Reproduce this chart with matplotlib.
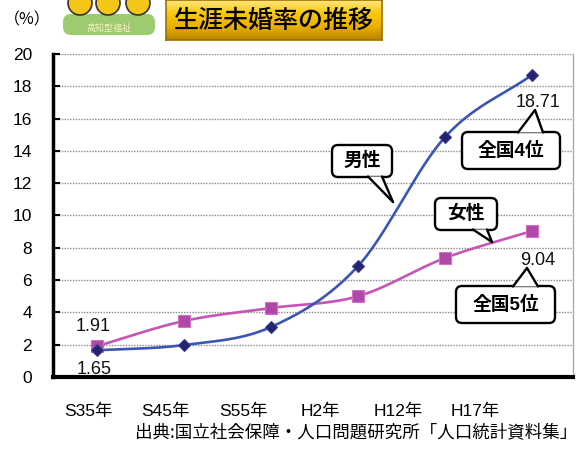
import numpy as np
import matplotlib
matplotlib.use("Agg")
import matplotlib.pyplot as plt
from matplotlib.patches import FancyBboxPatch, Polygon, Circle, Rectangle
from matplotlib.lines import Line2D
from matplotlib.colors import LinearSegmentedColormap
import matplotlib.transforms as mtransforms

plt.rcParams['font.family'] = ['Liberation Sans', 'Noto Sans CJK JP', 'DejaVu Sans']

# ---- data ----
categories = ["S35年", "S45年", "S55年", "H2年", "H12年", "H17年"]
male = [1.65, 1.98, 3.10, 6.87, 14.86, 18.71]
female = [1.91, 3.47, 4.27, 5.00, 7.37, 9.04]
yticks = [0, 2, 4, 6, 8, 10, 12, 14, 16, 18, 20]
title = "生涯未婚率の推移"
source = "出典:国立社会保障・人口問題研究所「人口統計資料集」"

W, H = 578, 451
fig = plt.figure(figsize=(W / 100, H / 100), dpi=100)
fig.patch.set_facecolor("white")
ax = fig.add_axes([53 / W, 74 / H, 520 / W, 323 / H])

PX = mtransforms.Affine2D().scale(1, -1).translate(0, H)  # pixel coords from top-left


def catmull(xs, ys, n=30):
    xs = np.asarray(xs, float); ys = np.asarray(ys, float)
    P = np.column_stack([xs, ys])
    P = np.vstack([2 * P[0] - P[1], P, 2 * P[-1] - P[-2]])
    out = []
    for i in range(1, len(P) - 2):
        p0, p1, p2, p3 = P[i - 1], P[i], P[i + 1], P[i + 2]
        t = np.linspace(0, 1, n)[:, None]
        seg = 0.5 * ((2 * p1) + (-p0 + p2) * t + (2 * p0 - 5 * p1 + 4 * p2 - p3) * t ** 2
                     + (-p0 + 3 * p1 - 3 * p2 + p3) * t ** 3)
        out.append(seg)
    out = np.vstack(out)
    return out[:, 0], out[:, 1]


x = np.arange(len(categories))
mx, my = catmull(x, male)
fx, fy = catmull(x, female)

ax.plot(fx, fy, color="#C455B4", lw=1.9, zorder=3)
ax.plot(mx, my, color="#3A55B5", lw=1.9, zorder=3)
ax.plot(x, female, ls="none", marker="s", ms=8, color="#B048A8", mec="#D070C8", mew=0.8, zorder=4)
ax.plot(x, male, ls="none", marker="D", ms=6.5, color="#23236E", mec="#3A3A90", mew=0.8, zorder=4)

ax.set_xlim(-0.506, 5.47)
ax.set_ylim(0, 20)
ax.set_yticks(yticks)
ax.set_yticklabels([str(v) for v in yticks], fontsize=12.5)
ax.grid(axis="y", color="#888888", ls=(0, (1, 1)), lw=1.0)
ax.set_axisbelow(True)

ax.set_xticks(np.arange(len(categories)) * 0.89 - 0.1)
ax.set_xticklabels(categories, fontsize=12.5)
ax.tick_params(axis="x", length=0, pad=19)
ax.tick_params(axis="y", direction="in", length=5, width=1.5, pad=15)

ax.spines["left"].set_linewidth(2.5)
ax.spines["bottom"].set_linewidth(3)
ax.spines["top"].set_visible(False)
ax.spines["right"].set_color("#AAAAAA")
ax.spines["right"].set_linewidth(1)

# data labels
lab = dict(fontsize=13, color="#111111", ha="center", va="center", textcoords="offset points")
ax.annotate("1.91", (x[0], female[0]), xytext=(-3, 14), **lab)
ax.annotate("1.65", (x[0], male[0]), xytext=(-2, -14), **lab)
ax.annotate("18.71", (x[-1], male[-1]), xytext=(4, -20), **lab)
ax.annotate("9.04", (x[-1], female[-1]), xytext=(4, -21), **lab)


def callout(box, base1, base2, tip, text):
    x0, y0, x1, y1 = box
    bp = FancyBboxPatch((x0, y0), x1 - x0, y1 - y0, boxstyle="round,pad=0,rounding_size=6",
                        transform=PX, fc="white", ec="black", lw=1.7, zorder=10)
    fig.patches.append(bp)
    tri = Polygon([base1, tip, base2], closed=True, transform=PX, fc="white", ec="none", zorder=11)
    fig.patches.append(tri)
    for b in (base1, base2):
        fig.lines.append(Line2D([b[0], tip[0]], [b[1], tip[1]], transform=PX, color="black",
                                lw=1.7, zorder=12, solid_capstyle="round"))
    fig.text((x0 + x1) / 2, (y0 + y1) / 2, text, transform=PX, ha="center", va="center",
             fontsize=13.5, fontweight="bold", family=['Liberation Sans', 'Noto Sans CJK JP'], zorder=13)


callout((332, 145, 392, 177), (368, 176.5), (382, 176.5), (393, 202), "男性")
callout((462, 132, 560, 169), (518, 132.5), (543, 132.5), (535, 110), "全国4位")
callout((435, 198, 497, 230), (473, 229.5), (487, 229.5), (492, 242), "女性")
callout((456, 286, 555, 323), (513, 286.5), (538, 286.5), (527, 268), "全国5位")

# title box with gold gradient
tax = fig.add_axes([166 / W, (H - 40) / H, 216 / W, 40 / H])
gold = LinearSegmentedColormap.from_list("gold", ["#FFE680", "#F7C80A", "#EBB000", "#B88400"])
grad = np.linspace(0, 1, 64)[:, None]
tax.imshow(grad, aspect="auto", cmap=gold, extent=(0, 1, 0, 1), origin="upper")
tax.set_xticks([]); tax.set_yticks([])
for s in tax.spines.values():
    s.set_color("#A07000"); s.set_linewidth(1.2)
tax.text(0.5, 0.48, title, transform=tax.transAxes, ha="center", va="center", fontsize=18,
         family=['Noto Sans CJK JP'], fontweight="medium", color="black")

# "(%)"
fig.text(27, 20, "（%）", transform=PX, ha="center", va="center", fontsize=11.5,
         family=['Noto Sans CJK JP'])

# simple logo
fig.patches.append(FancyBboxPatch((63, 14), 92, 21, boxstyle="round,pad=0,rounding_size=8",
                                  transform=PX, fc="#9CCB70", ec="none", zorder=2))
for cx in (80, 108, 138):
    fig.patches.append(Circle((cx, 3), 12, transform=PX, fc="#F5C518", ec="#333333", lw=1.2, zorder=3))
fig.text(109, 28, "高知型福祉", transform=PX, ha="center", va="center", fontsize=6.5,
         color="#F4F0C0", family=['Noto Sans CJK JP'], zorder=4)

# source
fig.text(577, 432, source, transform=PX, ha="right", va="center", fontsize=12.6,
         family=['Noto Sans CJK JP'])

fig.savefig("out.png", dpi=100)
